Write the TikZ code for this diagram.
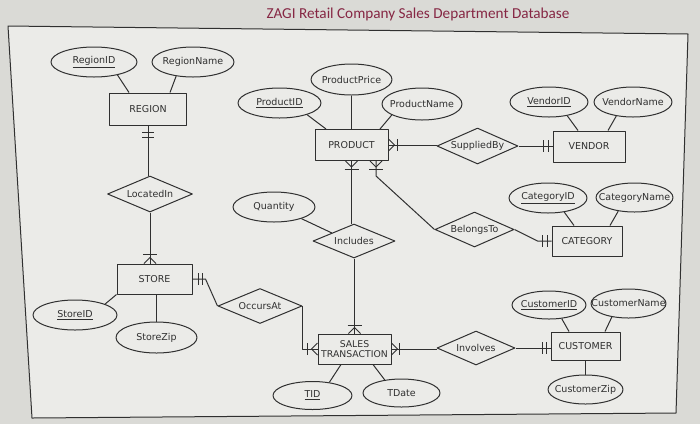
\documentclass[tikz,border=0pt]{standalone}
\usepackage{fontspec}
\setmainfont{DejaVu Sans}
\newfontfamily\titlefont{Carlito}
\usetikzlibrary{shapes.geometric,calc}
\definecolor{ink}{HTML}{303030}
\definecolor{titlered}{HTML}{862744}
\definecolor{pagebg}{HTML}{DADAD6}
\definecolor{framebg}{HTML}{EBEBE8}
\begin{document}
\begin{tikzpicture}[x=1pt,y=-1pt,line join=round,
  every node/.style={text=ink,font=\fontsize{9.5}{10.5}\selectfont},
  ent/.style={draw=ink,line width=1pt,rectangle,inner sep=0pt},
  attr/.style={draw=ink,line width=1pt,ellipse,inner xsep=-28pt,inner ysep=-5pt},
  rel/.style={draw=ink,line width=1pt,diamond,inner sep=0pt,shape aspect=2.3},
  conn/.style={draw=ink,line width=1pt}]
\useasboundingbox (0,0) rectangle (700,424);
\fill[pagebg] (0,0) rectangle (700,424);
\filldraw[fill=framebg,draw=ink,line width=1pt] (8,26) -- (688,34) -- (676,413) -- (32,418) -- cycle;
\node[font=\titlefont\fontsize{15.2}{18}\selectfont,text=titlered] (title) at (418,14) {ZAGI Retail Company Sales Department Database};

% entities
\node[ent,minimum width=77pt,minimum height=32pt] (region) at (148,109) {REGION};
\node[ent,minimum width=75pt,minimum height=30pt] (store) at (154.5,279) {STORE};
\node[ent,minimum width=73pt,minimum height=31pt] (product) at (351.5,145) {PRODUCT};
\node[ent,minimum width=72pt,minimum height=31pt] (vendor) at (589,146.5) {VENDOR};
\node[ent,minimum width=70pt,minimum height=30pt] (category) at (587,241) {CATEGORY};
\node[ent,minimum width=73pt,minimum height=30pt,align=center,font=\fontsize{9.3}{9.8}\selectfont] (st) at (354.5,349) {SALES\\TRANSACTION};
\node[ent,minimum width=69pt,minimum height=28pt] (customer) at (585.5,346) {CUSTOMER};

% relationships
\node[rel,minimum width=85pt,minimum height=36pt] (locatedin) at (150,194) {LocatedIn};
\node[rel,minimum width=84pt,minimum height=35pt] (occursat) at (260,306) {OccursAt};
\node[rel,minimum width=82pt,minimum height=34pt] (includes) at (354,241) {Includes};
\node[rel,minimum width=81pt,minimum height=36pt] (suppliedby) at (477.5,146) {SuppliedBy};
\node[rel,minimum width=79pt,minimum height=35pt] (belongsto) at (474.5,229.5) {BelongsTo};
\node[rel,minimum width=78pt,minimum height=34pt] (involves) at (476,348) {Involves};

% attributes
\node[attr,minimum width=86pt,minimum height=30pt] (regionid) at (94,62) {\underline{RegionID}};
\node[attr,minimum width=82pt,minimum height=30pt] (regionname) at (193,62) {RegionName};
\node[attr,minimum width=84pt,minimum height=30pt] (storeid) at (75,315) {\underline{StoreID}};
\node[attr,minimum width=81pt,minimum height=31pt] (storezip) at (156.5,337.5) {StoreZip};
\node[attr,minimum width=81pt,minimum height=31pt] (productprice) at (351.5,79.5) {ProductPrice};
\node[attr,minimum width=83pt,minimum height=30pt] (productid) at (279.5,103) {\underline{ProductID}};
\node[attr,minimum width=80pt,minimum height=32pt] (productname) at (422,104) {ProductName};
\node[attr,minimum width=82pt,minimum height=30pt] (quantity) at (274,207) {Quantity};
\node[attr,minimum width=78pt,minimum height=30pt] (vendorid) at (549,102) {\underline{VendorID}};
\node[attr,minimum width=78pt,minimum height=30pt] (vendorname) at (633,102) {VendorName};
\node[attr,minimum width=78pt,minimum height=30pt] (categoryid) at (548,198) {\underline{CategoryID}};
\node[attr,minimum width=77pt,minimum height=29pt] (categoryname) at (634.5,197.5) {CategoryName};
\node[attr,minimum width=74pt,minimum height=28pt] (customerid) at (549,305) {\underline{CustomerID}};
\node[attr,minimum width=75pt,minimum height=29pt] (customername) at (628.5,303.5) {CustomerName};
\node[attr,minimum width=75pt,minimum height=29pt] (customerzip) at (585.5,389.5) {CustomerZip};
\node[attr,minimum width=79pt,minimum height=28pt] (tid) at (312.5,395.5) {\underline{TID}};
\node[attr,minimum width=77pt,minimum height=28pt] (tdate) at (401.5,393) {TDate};

% attribute links
\draw[conn] (regionid.-29) -- ($(region.north)+(-19,0)$);
\draw[conn] (regionname.-140) -- ($(region.north)+(22,0)$);
\draw[conn] (storeid.20) -- (store.south west);
\draw[conn] (storezip.north) -- (storezip.north |- store.south);
\draw[conn] (productid.-23) -- ($(product.north)+(-25.5,0)$);
\draw[conn] (productprice.south) -- (product.north);
\draw[conn] (productname.-160) -- ($(product.north)+(28.5,0)$);
\draw[conn] (quantity.-23) -- (includes.160);
\draw[conn] (vendorid.-37) -- ($(vendor.north)+(-11,0)$);
\draw[conn] (vendorname.-140) -- ($(vendor.north)+(19,0)$);
\draw[conn] (categoryid.-41) -- ($(category.north)+(-13,0)$);
\draw[conn] (categoryname.-140) -- ($(category.north)+(23,0)$);
\draw[conn] (customerid.-47) -- ($(customer.north)+(-16.5,0)$);
\draw[conn] (customername.-141) -- ($(customer.north)+(19.5,0)$);
\draw[conn] (customerzip.north) -- (customer.south);
\draw[conn] (tid.38) -- ($(st.south)+(-13.5,0)$);
\draw[conn] (tdate.142) -- ($(st.south)+(18.5,0)$);

% relationship links
\draw[conn] (region.south) -- (region.south |- locatedin.north);
\coordinate (sT) at (locatedin.south |- store.north);
\draw[conn] (locatedin.south) -- (sT);
\draw[conn] (store.east) -- ++(13,0) -- (occursat.west);
\draw[conn] (occursat.east) -- (occursat.east |- st.west) -- (st.west);
\draw[conn] (includes.south) -- (includes.south |- st.north);
\draw[conn] (st.east) -- (st.east -| involves.west);
\coordinate (cW) at (involves.east -| customer.west);
\draw[conn] (involves.east) -- (cW);
\draw[conn] (product.east) -- (product.east -| suppliedby.west);
\coordinate (vW) at (suppliedby.east -| vendor.west);
\draw[conn] (suppliedby.east) -- (vW);
\draw[conn] (product.south) -- (product.south |- includes.north);
\coordinate (pB) at ($(product.south)+(24.5,0)$);
\draw[conn] (pB) -- ++(0,15) -- (belongsto.west);
\coordinate (gW) at ($(category.west)$);
\draw[conn] (belongsto.east) -- ($(gW)+(-14,0)$) -- (gW);

% cardinality marks
\draw[conn] ($(region.south)+(-6,7)$) -- ++(12,0);
\draw[conn] ($(region.south)+(-6,12)$) -- ++(12,0);
\draw[conn] ($(sT)+(-7,-9)$) -- ++(14,0);
\draw[conn] ($(sT)+(-6,0)$) -- ($(sT)+(0,-6)$) -- ($(sT)+(6,0)$);
\draw[conn] ($(store.east)+(6,-6)$) -- ++(0,12);
\draw[conn] ($(store.east)+(10,-6)$) -- ++(0,12);
\draw[conn] ($(st.west)+(-10,-6)$) -- ++(0,12);
\draw[conn] ($(st.west)+(0,-6)$) -- ($(st.west)+(-6,0)$) -- ($(st.west)+(0,6)$);
\draw[conn] ($(st.north)+(-7,-8)$) -- ++(14,0);
\draw[conn] ($(st.north)+(-6,0)$) -- ($(st.north)+(0,-6)$) -- ($(st.north)+(6,0)$);
\draw[conn] ($(st.east)+(0,-6)$) -- ($(st.east)+(6,0)$) -- ($(st.east)+(0,6)$);
\draw[conn] ($(st.east)+(8,-6)$) -- ++(0,12);
\draw[conn] ($(cW)+(-8,-6)$) -- ++(0,12);
\draw[conn] ($(cW)+(-4,-6)$) -- ++(0,12);
\draw[conn] ($(product.east)+(0,-6)$) -- ($(product.east)+(6,0)$) -- ($(product.east)+(0,6)$);
\draw[conn] ($(product.east)+(9,-6)$) -- ++(0,12);
\draw[conn] ($(vW)+(-9,-6)$) -- ++(0,12);
\draw[conn] ($(vW)+(-4,-6)$) -- ++(0,12);
\draw[conn] ($(product.south)+(-6,0)$) -- ($(product.south)+(0,6)$) -- ($(product.south)+(6,0)$);
\draw[conn] ($(product.south)+(-7,8)$) -- ++(14,0);
\draw[conn] ($(pB)+(-6,0)$) -- ($(pB)+(0,6)$) -- ($(pB)+(6,0)$);
\draw[conn] ($(pB)+(-7,8)$) -- ++(14,0);
\draw[conn] ($(gW)+(-9,-6)$) -- ++(0,12);
\draw[conn] ($(gW)+(-4,-6)$) -- ++(0,12);
\end{tikzpicture}
\end{document}
